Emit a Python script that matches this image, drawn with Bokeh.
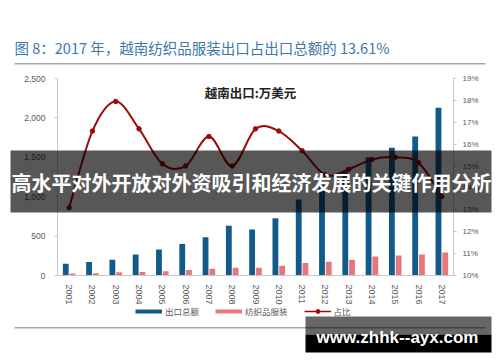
import numpy as np
from bokeh.plotting import figure
from bokeh.models import (Range1d, LinearAxis, FixedTicker, NumeralTickFormatter,
                          PrintfTickFormatter, Label, BoxAnnotation, Legend, LegendItem,
                          ColumnDataSource)
from bokeh.embed import file_html
from bokeh.resources import INLINE

# ---------------- data ----------------
years = list(range(2001, 2018))
total_exports = [150, 170, 200, 265, 330, 400, 485, 630, 585, 725, 965, 1145, 1320, 1500, 1620, 1765, 2130]
textile_exports = [25, 30, 40, 45, 55, 70, 85, 97, 97, 125, 160, 175, 200, 240, 255, 267, 292]
textile_share = [13.1, 16.6, 17.95, 16.7, 15.1, 15.0, 16.35, 15.0, 16.7, 16.6, 15.7, 14.6, 14.85, 15.3, 15.4, 15.15, 13.61]
left_ticks = [0, 500, 1000, 1500, 2000, 2500]
right_ticks = list(range(10, 20))

title_text = "图 8：2017 年，越南纺织品服装出口占出口总额的 13.61%"
subtitle_text = "越南出口:万美元"
legend_labels = ["出口总额", "纺织品服装", "占比"]
banner_text = "高水平对外开放对外资吸引和经济发展的关键作用分析"
watermark_text = "www.zhhk--ayx.com"

# ---------------- style ----------------
BLUE = "#135a8c"
PINK = "#e8777b"
RED = "#9e0b0b"
GRAY_TXT = "#595959"
AXIS_GRAY = "#c8c8c8"
CJK = "Noto Sans CJK SC"

W, H = 500, 362
FL, FR, FT, FB = 57, 453, 78, 275   # chart area, in pixels of the picture

x0, x1 = years[0] - 0.5, years[-1] + 0.5
ymin, ymax = left_ticks[0], left_ticks[-1]
pmin, pmax = right_ticks[0], right_ticks[-1]

def sx(px):
    return x0 + (px - FL) / (FR - FL) * (x1 - x0)

def sy(py):
    return ymin + (FB - py) / (FB - FT) * (ymax - ymin)

def spct(py):
    return pmin + (FB - py) / (FB - FT) * (pmax - pmin)

# the frame covers the whole canvas; axes are pinned with fixed_location
p = figure(width=W, height=H, output_backend="svg", toolbar_location=None,
           x_range=Range1d(sx(0), sx(W)), y_range=Range1d(sy(H), sy(0)),
           x_axis_location=None, y_axis_location=None, min_border=0)
p.min_border_left = p.min_border_right = p.min_border_top = p.min_border_bottom = 0
p.outline_line_color = None
p.grid.visible = False
p.background_fill_color = "white"
p.border_fill_color = "white"
p.extra_y_ranges = {"pct": Range1d(spct(H), spct(0))}

def style_axis(ax, size):
    ax.major_label_text_font_size = size
    ax.major_label_text_color = GRAY_TXT
    ax.major_label_text_font = "Liberation Sans"
    ax.axis_line_color = AXIS_GRAY
    ax.minor_tick_line_color = None

xa = LinearAxis(fixed_location=ymin, bounds=(x0, x1), ticker=FixedTicker(ticks=years))
style_axis(xa, "9px")
xa.major_label_orientation = "vertical"
xa.major_tick_line_color = None
xa.major_label_standoff = 3
p.add_layout(xa, "below")

ya = LinearAxis(fixed_location=x0, bounds=(ymin, ymax), ticker=FixedTicker(ticks=left_ticks),
                formatter=NumeralTickFormatter(format="0,0"))
style_axis(ya, "8.5px")
ya.major_tick_line_color = AXIS_GRAY
ya.major_tick_out = 3
ya.major_tick_in = 0
ya.major_label_standoff = 9
p.add_layout(ya, "left")

ra = LinearAxis(y_range_name="pct", fixed_location=x1, bounds=(pmin, pmax),
                ticker=FixedTicker(ticks=right_ticks), formatter=PrintfTickFormatter(format="%d%%"))
style_axis(ra, "8px")
ra.major_tick_line_color = AXIS_GRAY
ra.major_tick_out = 3
ra.major_tick_in = 0
ra.major_label_standoff = 6
p.add_layout(ra, "right")

# bars
src = ColumnDataSource(dict(
    xb=[y - 0.145 for y in years], xp=[y + 0.145 for y in years],
    total=total_exports, textile=textile_exports))
p.vbar(x="xb", top="total", width=0.25, source=src, fill_color=BLUE, line_color=None)
p.vbar(x="xp", top="textile", width=0.25, source=src, fill_color=PINK, line_color=None)

# smooth share line (Catmull-Rom -> cubic Bezier between the data points)
xs = np.array(years, dtype=float)
ys = np.array(textile_share, dtype=float)
xe = np.concatenate([[xs[0]], xs, [xs[-1]]])
ye = np.concatenate([[ys[0]], ys, [ys[-1]]])
bz = dict(x0=[], y0=[], x1=[], y1=[], cx0=[], cy0=[], cx1=[], cy1=[])
for i in range(len(xs) - 1):
    bz["x0"].append(xs[i]); bz["y0"].append(ys[i])
    bz["x1"].append(xs[i + 1]); bz["y1"].append(ys[i + 1])
    bz["cx0"].append(xs[i] + (xe[i + 2] - xe[i]) / 6)
    bz["cy0"].append(ys[i] + (ye[i + 2] - ye[i]) / 6)
    bz["cx1"].append(xs[i + 1] - (xe[i + 3] - xe[i + 1]) / 6)
    bz["cy1"].append(ys[i + 1] - (ye[i + 3] - ye[i + 1]) / 6)
p.bezier(source=ColumnDataSource(bz), x0="x0", y0="y0", x1="x1", y1="y1",
         cx0="cx0", cy0="cy0", cx1="cx1", cy1="cy1",
         y_range_name="pct", line_color=RED, line_width=2)
p.scatter(x=years, y=textile_share, y_range_name="pct", size=4.5,
          fill_color=RED, line_color=RED)

# legend (NaN-only renderers give line-style swatches, drawing nothing in the plot)
nan = [float("nan")]
lb = p.line(x=nan, y=nan, line_color=BLUE, line_width=4)
lp = p.line(x=nan, y=nan, line_color=PINK, line_width=4)
lr = p.line(x=nan, y=nan, line_color=RED, line_width=1.5)
sr = p.scatter(x=nan, y=nan, size=4, fill_color=RED, line_color=RED)
legend = Legend(items=[LegendItem(label=legend_labels[0], renderers=[lb]),
                       LegendItem(label=legend_labels[1], renderers=[lp]),
                       LegendItem(label=legend_labels[2], renderers=[lr, sr])],
                location=(135, H - 317), orientation="horizontal",
                padding=0, margin=0, spacing=16, glyph_width=27, glyph_height=10,
                label_height=10, label_standoff=3, border_line_color=None,
                background_fill_alpha=0, label_text_font_size="8.5px",
                label_text_color=GRAY_TXT, label_text_font=CJK)
p.add_layout(legend)

# title and separators
p.add_layout(Label(x=sx(14), y=sy(47), text=title_text, text_align="left",
                   text_baseline="middle", text_font=CJK, text_font_size="14.5px",
                   text_color="#3a78ad"))
p.add_layout(BoxAnnotation(left=sx(14), right=sx(485), top=sy(62.5), bottom=sy(64),
                           fill_color="#a6a6a6", fill_alpha=1, line_color=None))
p.add_layout(BoxAnnotation(left=sx(14), right=sx(485), top=sy(326.5), bottom=sy(328),
                           fill_color="#a6a6a6", fill_alpha=1, line_color=None))
p.add_layout(Label(x=sx(250), y=sy(92), text=subtitle_text, text_align="center",
                   text_baseline="middle", text_font=CJK, text_font_size="12.5px",
                   text_font_style="bold", text_color="#222222"))

# overlay banner
p.add_layout(BoxAnnotation(left=sx(10), right=sx(491), top=sy(150), bottom=sy(212),
                           fill_color="black", fill_alpha=0.66, line_color=None))
p.add_layout(Label(x=sx(251), y=sy(182), text=banner_text, text_align="center",
                   text_baseline="middle", text_font=CJK, text_font_size="20px",
                   text_font_style="bold", text_color="white"))

# watermark
p.add_layout(BoxAnnotation(left=sx(305), right=sx(491), top=sy(316), bottom=sy(334),
                           fill_color="black", fill_alpha=0.6, line_color=None))
p.add_layout(BoxAnnotation(left=sx(305), right=sx(491), top=sy(334), bottom=sy(352),
                           fill_color="black", fill_alpha=1, line_color=None))
p.add_layout(Label(x=sx(397), y=sy(337), text=watermark_text, text_align="center",
                   text_baseline="middle", text_font="Liberation Sans", text_font_size="17px",
                   text_font_style="bold", text_color="white"))

open("out.html", "w").write(file_html(p, INLINE))
